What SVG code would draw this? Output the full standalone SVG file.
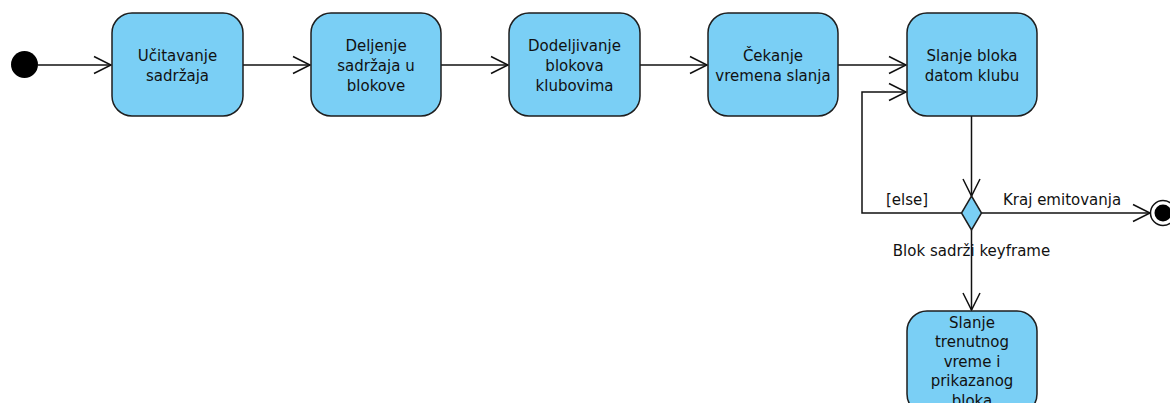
<svg xmlns="http://www.w3.org/2000/svg" width="1170" height="403" viewBox="0 0 1170 403">
<style>
.node rect{fill:#7ACFF5;stroke:#1e1e1e;stroke-width:1.5}
text{font-family:"DejaVu Sans",sans-serif;font-size:15px;fill:#111;text-anchor:middle}
.edge{fill:none;stroke:#111;stroke-width:1.5}
.lbl{text-anchor:start}
</style>
<defs>
<marker id="arr" markerUnits="userSpaceOnUse" markerWidth="24" markerHeight="24" viewBox="-20 -12 24 24" refX="0" refY="0" orient="auto">
<path d="M-17,-8.5 L0,0 L-17,8.5" fill="none" stroke="#111" stroke-width="1.5"/>
</marker>
</defs>
<rect width="1170" height="403" fill="#fff"/>
<g id="connectors">
<line class="edge" x1="38" y1="65" x2="111" y2="65" marker-end="url(#arr)"/>
<line class="edge" x1="243" y1="65" x2="310" y2="65" marker-end="url(#arr)"/>
<line class="edge" x1="441" y1="65" x2="508" y2="65" marker-end="url(#arr)"/>
<line class="edge" x1="640" y1="65" x2="707" y2="65" marker-end="url(#arr)"/>
<line class="edge" x1="838" y1="65" x2="906" y2="65" marker-end="url(#arr)"/>
<line class="edge" x1="971.5" y1="116" x2="971.5" y2="196" marker-end="url(#arr)"/>
<polyline class="edge" points="961.5,213 862,213 862,92 906,92" marker-end="url(#arr)"/>
<line class="edge" x1="981.5" y1="213" x2="1150" y2="213" marker-end="url(#arr)"/>
<line class="edge" x1="971.5" y1="230" x2="971.5" y2="310" marker-end="url(#arr)"/>
<text x="907" y="205">[else]</text>
<text class="lbl" x="1003" y="205">Kraj emitovanja</text>
<text x="971.5" y="256">Blok sadrži keyframe</text>
</g>
<g id="start"><circle cx="24.5" cy="64.5" r="13.5" fill="#000"/></g>
<g id="n1" class="node"><rect x="112" y="13" width="131" height="103" rx="20"/><text x="177.5" y="60.5">Učitavanje</text><text x="177.5" y="80.5">sadržaja</text></g>
<g id="n2" class="node"><rect x="311" y="13" width="130" height="103" rx="20"/><text x="376" y="50.5">Deljenje</text><text x="376" y="70.5">sadržaja u</text><text x="376" y="90.5">blokove</text></g>
<g id="n3" class="node"><rect x="509" y="13" width="131" height="103" rx="20"/><text x="574.5" y="50.5">Dodeljivanje</text><text x="574.5" y="70.5">blokova</text><text x="574.5" y="90.5">klubovima</text></g>
<g id="n4" class="node"><rect x="708" y="13" width="130" height="103" rx="20"/><text x="773" y="60.5">Čekanje</text><text x="773" y="80.5">vremena slanja</text></g>
<g id="n5" class="node"><rect x="907" y="13" width="130" height="103" rx="20"/><text x="972" y="60.5">Slanje bloka</text><text x="972" y="80.5">datom klubu</text></g>
<g id="decision"><polygon points="971.5,196 981.5,213 971.5,230 961.5,213" fill="#7ACFF5" stroke="#1e1e1e" stroke-width="1.5"/></g>
<g id="end"><circle cx="1163" cy="213" r="12.5" fill="#fff" stroke="#111" stroke-width="1.5"/><circle cx="1163" cy="213" r="8.5" fill="#000"/></g>
<g id="n6" class="node"><rect x="907" y="311" width="130" height="103" rx="20"/><text x="972" y="327.5">Slanje</text><text x="972" y="347">trenutnog</text><text x="972" y="366.5">vreme i</text><text x="972" y="386">prikazanog</text><text x="972" y="405.5">bloka</text></g>
</svg>
